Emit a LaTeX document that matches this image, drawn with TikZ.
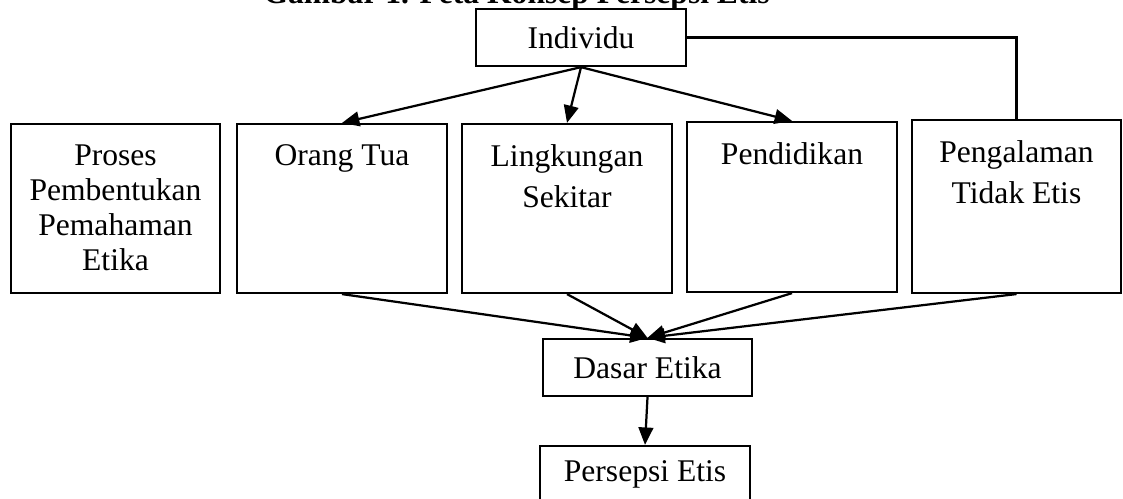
\documentclass[tikz,border=0pt]{standalone}
\usepackage{fontspec}
\setmainfont{Liberation Serif}
\usetikzlibrary{arrows.meta}

\begin{document}
\begin{tikzpicture}[x=0.38pt, y=-0.38pt,
    every node/.style={font=\fontsize{12pt}{15.5pt}\selectfont},
    box/.style={draw, line width=0.85pt, minimum width=79.6pt, inner sep=0pt},
    tall/.style={box, minimum height=64.2pt},
    flat/.style={box, minimum height=21.7pt},
    txt/.style={anchor=north, align=center, inner sep=0pt, yshift=-8pt},
    arr/.style={-{Triangle[length=6.6pt,width=5.6pt]}, line width=0.85pt}]
    \useasboundingbox (0,0) rectangle (1123,499);

    \node[anchor=base west, inner sep=0pt, font=\fontsize{12pt}{14pt}\selectfont\bfseries] (judul) at (263,4) {Gambar 1. Peta Konsep Persepsi Etis};

    \node[flat] (individu) at (581,37.5) {Individu};

    \node[tall] (proses) at (115.5,208.5) {};
    \node[tall] (ortu)   at (342,208.5) {};
    \node[tall] (lingk)  at (567,208.5) {};
    \node[tall, minimum height=64.6pt] (didik) at (792,207) {};
    \node[tall, minimum height=65.7pt] (alami) at (1016.5,206.5) {};

    \node[txt, font=\fontsize{12pt}{13.4pt}\selectfont] (proses-t) at (proses.north) {Proses\\Pembentukan\\Pemahaman\\Etika};
    \node[txt] (ortu-t)  at (ortu.north)  {Orang Tua};
    \node[txt] (lingk-t) at (lingk.north) {Lingkungan\\Sekitar};
    \node[txt] (didik-t) at (didik.north) {Pendidikan};
    \node[txt] (alami-t) at (alami.north) {Pengalaman\\Tidak Etis};

    \node[flat] (dasar)    at (647.5,367.5) {Dasar Etika};
    \node[flat] (persepsi) at (645,474.5) {Persepsi Etis};

    \draw[arr] (individu.south) -- (ortu.north);
    \draw[arr] (individu.south) -- (lingk.north);
    \draw[arr] (individu.south) -- (didik.north);
    \draw[line width=0.85pt] (individu.east) -| (alami.north);

    \draw[arr] (ortu.south)  -- (dasar.north);
    \draw[arr] (lingk.south) -- (dasar.north);
    \draw[arr] (didik.south) -- (dasar.north);
    \draw[arr] (alami.south) -- (dasar.north);
    \draw[arr] (dasar.south) -- (persepsi.north);
\end{tikzpicture}
\end{document}
